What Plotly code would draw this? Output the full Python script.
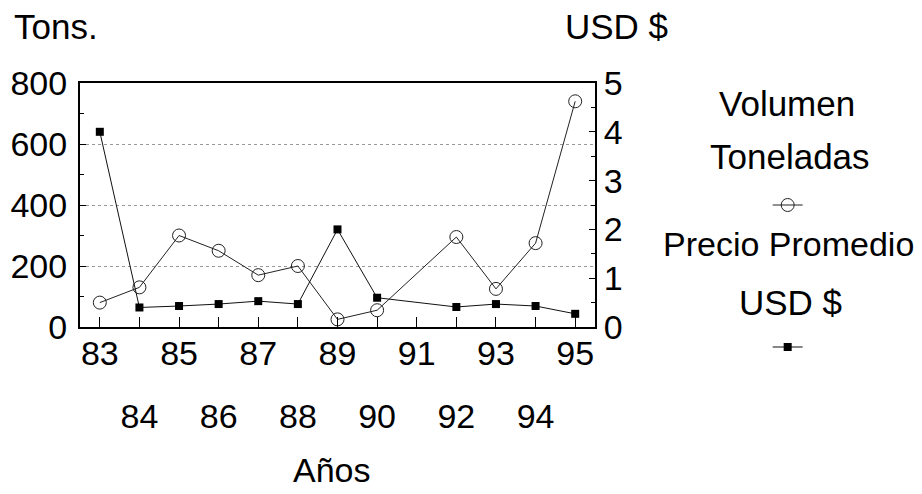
import plotly.graph_objects as go

years = [83, 84, 85, 86, 87, 88, 89, 90, 91, 92, 93, 94, 95]
volumen = [80, 130, 300, 250, 170, 200, 25, 55, None, 295, 125, 275, 740]
precio = [4.0, 0.4, 0.43, 0.47, 0.53, 0.47, 2.0, 0.6, None, 0.41, 0.47, 0.43, 0.27]
odd_years = [y for y in years if y % 2 == 1]
even_years = [y for y in years if y % 2 == 0]
left_ticks = [0, 200, 400, 600, 800]
right_ticks = [0, 1, 2, 3, 4, 5]

FONT = "Liberation Sans, Arial, sans-serif"

fig = go.Figure()
fig.add_trace(go.Scatter(
    x=years, y=volumen, name="", mode="lines+markers", connectgaps=True,
    line=dict(color="#222", width=1),
    marker=dict(symbol="circle-open", size=13, color="#222", line=dict(width=1)),
    xaxis="x", yaxis="y", legend="legend",
))
fig.add_trace(go.Scatter(
    x=years, y=precio, name="", mode="lines+markers", connectgaps=True,
    line=dict(color="#111", width=1),
    marker=dict(symbol="square", size=8, color="#000"),
    xaxis="x2", yaxis="y2", legend="legend2",
))

axis_common = dict(showline=True, linecolor="black", linewidth=2,
                   tickfont=dict(family=FONT, size=34, color="black"),
                   ticks="inside", tickcolor="black", tickwidth=1, zeroline=False)

fig.update_layout(
    width=922, height=494,
    margin=dict(l=80, r=327, t=83, b=167, autoexpand=False),
    paper_bgcolor="white", plot_bgcolor="white",
    font=dict(family=FONT, color="black"),
    xaxis=dict(range=[82.5, 95.5], tickvals=odd_years, ticktext=[str(v) for v in odd_years],
               ticklen=10, mirror=True, showgrid=False, ticklabelstandoff=-5, **axis_common),
    xaxis2=dict(range=[82.5, 95.5], overlaying="x", side="bottom", anchor="y2",
                tickvals=even_years, ticktext=[str(v) for v in even_years],
                ticklen=10, showgrid=False, ticklabelstandoff=58, **axis_common),
    yaxis=dict(range=[0, 800], tickvals=left_ticks, ticklen=6, mirror=True,
               showgrid=True, gridcolor="#999", griddash="dot", gridwidth=1,
               ticklabelstandoff=4,
               minor=dict(dtick=100, ticks="inside", ticklen=4, tickcolor="black", showgrid=False),
               **axis_common),
    yaxis2=dict(range=[0, 5], tickvals=right_ticks, overlaying="y", side="right", anchor="x2",
                ticklen=6, showgrid=False,
                minor=dict(dtick=0.5, ticks="inside", ticklen=4, tickcolor="black", showgrid=False),
                **axis_common),
    legend=dict(x=1.379, y=0.5, xanchor="center", yanchor="middle",
                font=dict(size=10), bgcolor="rgba(0,0,0,0)", itemwidth=30),
    legend2=dict(x=1.379, y=-0.082, xanchor="center", yanchor="middle",
                 font=dict(size=10), bgcolor="rgba(0,0,0,0)", itemwidth=30),
    showlegend=True,
)

texts = [
    ("Tons.", -0.132, 1.23, "left", 35),
    ("USD $", 0.938, 1.23, "left", 35),
    ("Años", 0.489, -0.586, "center", 34),
    ("Volumen", 1.373, 0.918, "center", 35),
    ("Toneladas", 1.379, 0.697, "center", 35),
    ("Precio Promedio", 1.375, 0.340, "center", 34),
    ("USD $", 1.379, 0.102, "center", 35),
]
for t, x, y, xa, s in texts:
    fig.add_annotation(text=t, x=x, y=y, xref="paper", yref="paper", xanchor=xa,
                       yanchor="middle", showarrow=False,
                       font=dict(family=FONT, size=s, color="black"))

fig.write_html("out.html", config={"displayModeBar": False},
               post_script="document.body.style.margin='0';")
